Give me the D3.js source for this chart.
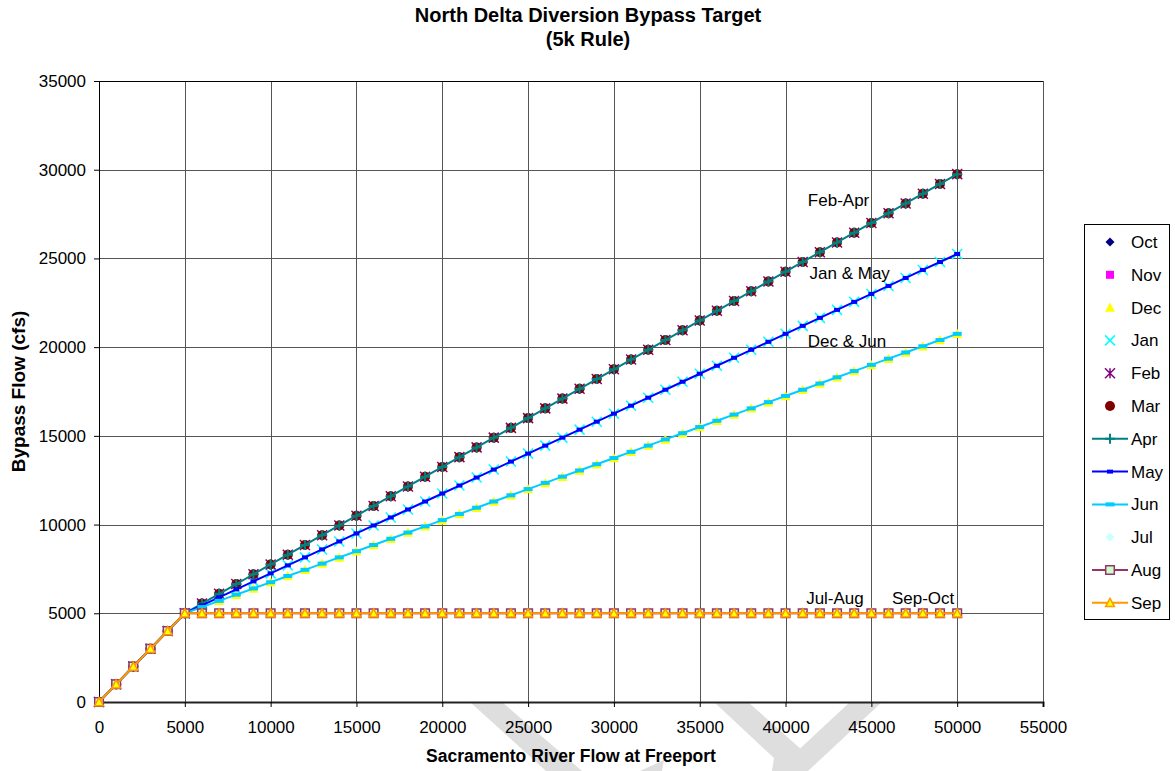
<!DOCTYPE html>
<html><head><meta charset="utf-8">
<script src="https://cdn.jsdelivr.net/npm/d3@7/dist/d3.min.js"></script>
<style>
html,body{margin:0;padding:0;background:#fff;}
svg{display:block;font-family:"Liberation Sans",Arial,sans-serif;}
</style></head>
<body>
<svg id="chart" width="1175" height="771"></svg>
<script>
// ---------- DATA ----------
const flowFreeport = [0,1000,2000,3000,4000,5000,6000,7000,8000,9000,10000,11000,12000,13000,14000,15000,16000,17000,18000,19000,20000,21000,22000,23000,24000,25000,26000,27000,28000,29000,30000,31000,32000,33000,34000,35000,36000,37000,38000,39000,40000,41000,42000,43000,44000,45000,46000,47000,48000,49000,50000];
const bypassFebApr = [0,1000,2000,3000,4000,5000,5550,6100,6650,7200,7750,8300,8850,9400,9950,10500,11050,11600,12150,12700,13250,13800,14350,14900,15450,16000,16550,17100,17650,18200,18750,19300,19850,20400,20950,21500,22050,22600,23150,23700,24250,24800,25350,25900,26450,27000,27550,28100,28650,29200,29750];
const bypassJanMay = [0,1000,2000,3000,4000,5000,5450,5900,6350,6800,7250,7700,8150,8600,9050,9500,9950,10400,10850,11300,11750,12200,12650,13100,13550,14000,14450,14900,15350,15800,16250,16700,17150,17600,18050,18500,18950,19400,19850,20300,20750,21200,21650,22100,22550,23000,23450,23900,24350,24800,25250];
const bypassDecJun = [0,1000,2000,3000,4000,5000,5350,5700,6050,6400,6750,7100,7450,7800,8150,8500,8850,9200,9550,9900,10250,10600,10950,11300,11650,12000,12350,12700,13050,13400,13750,14100,14450,14800,15150,15500,15850,16200,16550,16900,17250,17600,17950,18300,18650,19000,19350,19700,20050,20400,20750];
const bypassJulNov = [0,1000,2000,3000,4000,5000,5000,5000,5000,5000,5000,5000,5000,5000,5000,5000,5000,5000,5000,5000,5000,5000,5000,5000,5000,5000,5000,5000,5000,5000,5000,5000,5000,5000,5000,5000,5000,5000,5000,5000,5000,5000,5000,5000,5000,5000,5000,5000,5000,5000,5000];
const months = ["Oct","Nov","Dec","Jan","Feb","Mar","Apr","May","Jun","Jul","Aug","Sep"];
const monthData = {Oct:bypassJulNov,Nov:bypassJulNov,Dec:bypassDecJun,Jan:bypassJanMay,Feb:bypassFebApr,Mar:bypassFebApr,Apr:bypassFebApr,May:bypassJanMay,Jun:bypassDecJun,Jul:bypassJulNov,Aug:bypassJulNov,Sep:bypassJulNov};
const xTicks = [0,5000,10000,15000,20000,25000,30000,35000,40000,45000,50000,55000];
const yTicks = [0,5000,10000,15000,20000,25000,30000,35000];
const annotations = [
  {text:"Feb-Apr", x:41300, y:27950},
  {text:"Jan & May", x:41400, y:23840},
  {text:"Dec & Jun", x:41300, y:20000},
  {text:"Jul-Aug", x:41200, y:5550},
  {text:"Sep-Oct", x:46200, y:5550}
];
const titleLines = ["North Delta Diversion Bypass Target","(5k Rule)"];
const xTitle = "Sacramento River Flow at Freeport";
const yTitle = "Bypass Flow (cfs)";

// ---------- STYLES ----------
const styles = {
  Oct:{marker:"diamond",fill:"#000080",stroke:"none",size:4.5},
  Nov:{marker:"square",fill:"#ff00ff",stroke:"none",size:4},
  Dec:{marker:"triangle",fill:"#ffff00",stroke:"none",size:5},
  Jan:{marker:"x",fill:"none",stroke:"#00ffff",size:5,sw:1.5},
  Feb:{marker:"asterisk",fill:"none",stroke:"#800080",size:5,sw:1.5},
  Mar:{marker:"circle",fill:"#800000",stroke:"none",size:5},
  Apr:{line:"#008080",marker:"plus",fill:"none",stroke:"#008080",size:5,sw:2},
  May:{line:"#0000ff",marker:"bar",fill:"#0000ff",stroke:"none",w:6,h:4},
  Jun:{line:"#00ccff",marker:"bar",fill:"#00ccff",stroke:"none",w:9,h:4},
  Jul:{marker:"diamond",fill:"#ccffff",stroke:"none",size:4.5},
  Aug:{line:"#993366",marker:"square",fill:"#ccffcc",stroke:"#993366",size:4.3,sw:1.5},
  Sep:{line:"#ff9900",marker:"triangle",fill:"#ffff00",stroke:"#ff9900",size:4.4,sw:1.5}
};
function markerPath(st){
  const s = st.size;
  switch(st.marker){
    case "diamond": return `M0,${-s}L${s},0L0,${s}L${-s},0Z`;
    case "square": return `M${-s},${-s}H${s}V${s}H${-s}Z`;
    case "triangle": return `M0,${-s}L${s},${s*0.85}L${-s},${s*0.85}Z`;
    case "x": return `M${-s},${-s}L${s},${s}M${-s},${s}L${s},${-s}`;
    case "asterisk": return `M${-s},${-s}L${s},${s}M${-s},${s}L${s},${-s}M0,${-s}V${s}`;
    case "plus": return `M${-s},0H${s}M0,${-s}V${s}`;
    case "circle": return d3.symbol(d3.symbolCircle, Math.PI*s*s)();
    case "bar": return `M${-st.w/2},${-st.h/2}H${st.w/2}V${st.h/2}H${-st.w/2}Z`;
  }
}

// ---------- LAYOUT ----------
const svg = d3.select("#chart");
const plot = {left:99, top:81, right:1043, bottom:702};
const x = d3.scaleLinear().domain([0,55000]).range([plot.left, plot.right]);
const y = d3.scaleLinear().domain([0,35000]).range([plot.bottom, plot.top]);

// watermark (decorative, behind plot)
const wm = svg.append("g").attr("fill","#dedede");
[
  "M470,702L502,702L582,771L546,771Z",
  "M714,702L748,702L802,750L786,771L772,771L774,758Z",
  "M850,702L882,702L808,771L776,771Z",
  "M640,771L662,771L664,760Z"
].forEach(d=>wm.append("path").attr("d",d));

// plot background
svg.append("rect").attr("x",plot.left).attr("y",plot.top)
  .attr("width",plot.right-plot.left).attr("height",plot.bottom-plot.top).attr("fill","#fff");

// gridlines
const grid = svg.append("g").attr("stroke","#555").attr("stroke-width",1).attr("shape-rendering","crispEdges");
xTicks.filter(t=>t>0).forEach(t=>grid.append("line")
  .attr("x1",Math.round(x(t))+0.5).attr("x2",Math.round(x(t))+0.5).attr("y1",plot.top).attr("y2",plot.bottom));
yTicks.filter(t=>t>0).forEach(t=>grid.append("line")
  .attr("x1",plot.left).attr("x2",plot.right).attr("y1",Math.round(y(t))+0.5).attr("y2",Math.round(y(t))+0.5));
grid.append("line").attr("x1",plot.left).attr("x2",plot.right).attr("y1",plot.top+0.5).attr("y2",plot.top+0.5).attr("stroke","#000");

// axes
const xAxis = d3.axisBottom(x).tickValues(xTicks).tickSize(5).tickPadding(14).tickFormat(d3.format("d"));
const yAxis = d3.axisLeft(y).tickValues(yTicks).tickSize(5).tickPadding(8).tickFormat(d3.format("d"));
const gx = svg.append("g").attr("transform",`translate(0,${plot.bottom})`).call(xAxis);
const gy = svg.append("g").attr("transform",`translate(${plot.left},0)`).call(yAxis);
[gx,gy].forEach(g=>{
  g.selectAll("text").attr("font-size","17px").attr("fill","#000").attr("font-family","Liberation Sans, Arial, sans-serif");
  g.selectAll("line").attr("stroke","#000");
  g.select(".domain").attr("stroke","#000");
});
gx.select(".domain").attr("stroke-width",2).attr("stroke","#222");

// series
const lineGen = (vals)=>d3.line().x((d,i)=>x(flowFreeport[i])).y(d=>y(d))(vals);
const sg = svg.append("g");
months.forEach(m=>{
  const st = styles[m], vals = monthData[m];
  const g = sg.append("g");
  if(st.line) g.append("path").attr("d",lineGen(vals)).attr("fill","none").attr("stroke",st.line).attr("stroke-width",2);
  const p = markerPath(st);
  g.selectAll("path.m").data(vals).join("path").attr("class","m")
    .attr("transform",(d,i)=>`translate(${x(flowFreeport[i])},${y(d)})`)
    .attr("d",p).attr("fill",st.fill).attr("stroke",st.stroke||"none").attr("stroke-width",st.sw||1);
});

// annotations
annotations.forEach(a=>svg.append("text").attr("x",x(a.x)).attr("y",y(a.y)).attr("font-size","17px").attr("fill","#000").text(a.text));

// titles
titleLines.forEach((t,i)=>svg.append("text").attr("x",588).attr("y",22+i*24)
  .attr("text-anchor","middle").attr("font-size","20px").attr("font-weight","bold").text(t));
svg.append("text").attr("x",(plot.left+plot.right)/2).attr("y",762).attr("text-anchor","middle")
  .attr("font-size","17.5px").attr("font-weight","bold").text(xTitle);
svg.append("text").attr("transform",`translate(25,${(plot.top+plot.bottom)/2}) rotate(-90)`)
  .attr("text-anchor","middle").attr("font-size","19px").attr("font-weight","bold").text(yTitle);

// legend
const lg = svg.append("g");
lg.append("rect").attr("x",1084.5).attr("y",224.5).attr("width",85).attr("height",395)
  .attr("fill","#fff").attr("stroke","#000").attr("stroke-width",1);
months.forEach((m,i)=>{
  const st = styles[m];
  const cy = 242 + i*32.8;
  const g = lg.append("g").attr("transform",`translate(0,${cy})`);
  if(st.line) g.append("line").attr("x1",1092).attr("x2",1128).attr("y1",0).attr("y2",0).attr("stroke",st.line).attr("stroke-width",2);
  g.append("path").attr("transform","translate(1110,0)").attr("d",markerPath(st))
    .attr("fill",st.fill).attr("stroke",st.stroke||"none").attr("stroke-width",st.sw||1);
  g.append("text").attr("x",1131).attr("y",6).attr("font-size","17px").text(m);
});
</script>
</body></html>
